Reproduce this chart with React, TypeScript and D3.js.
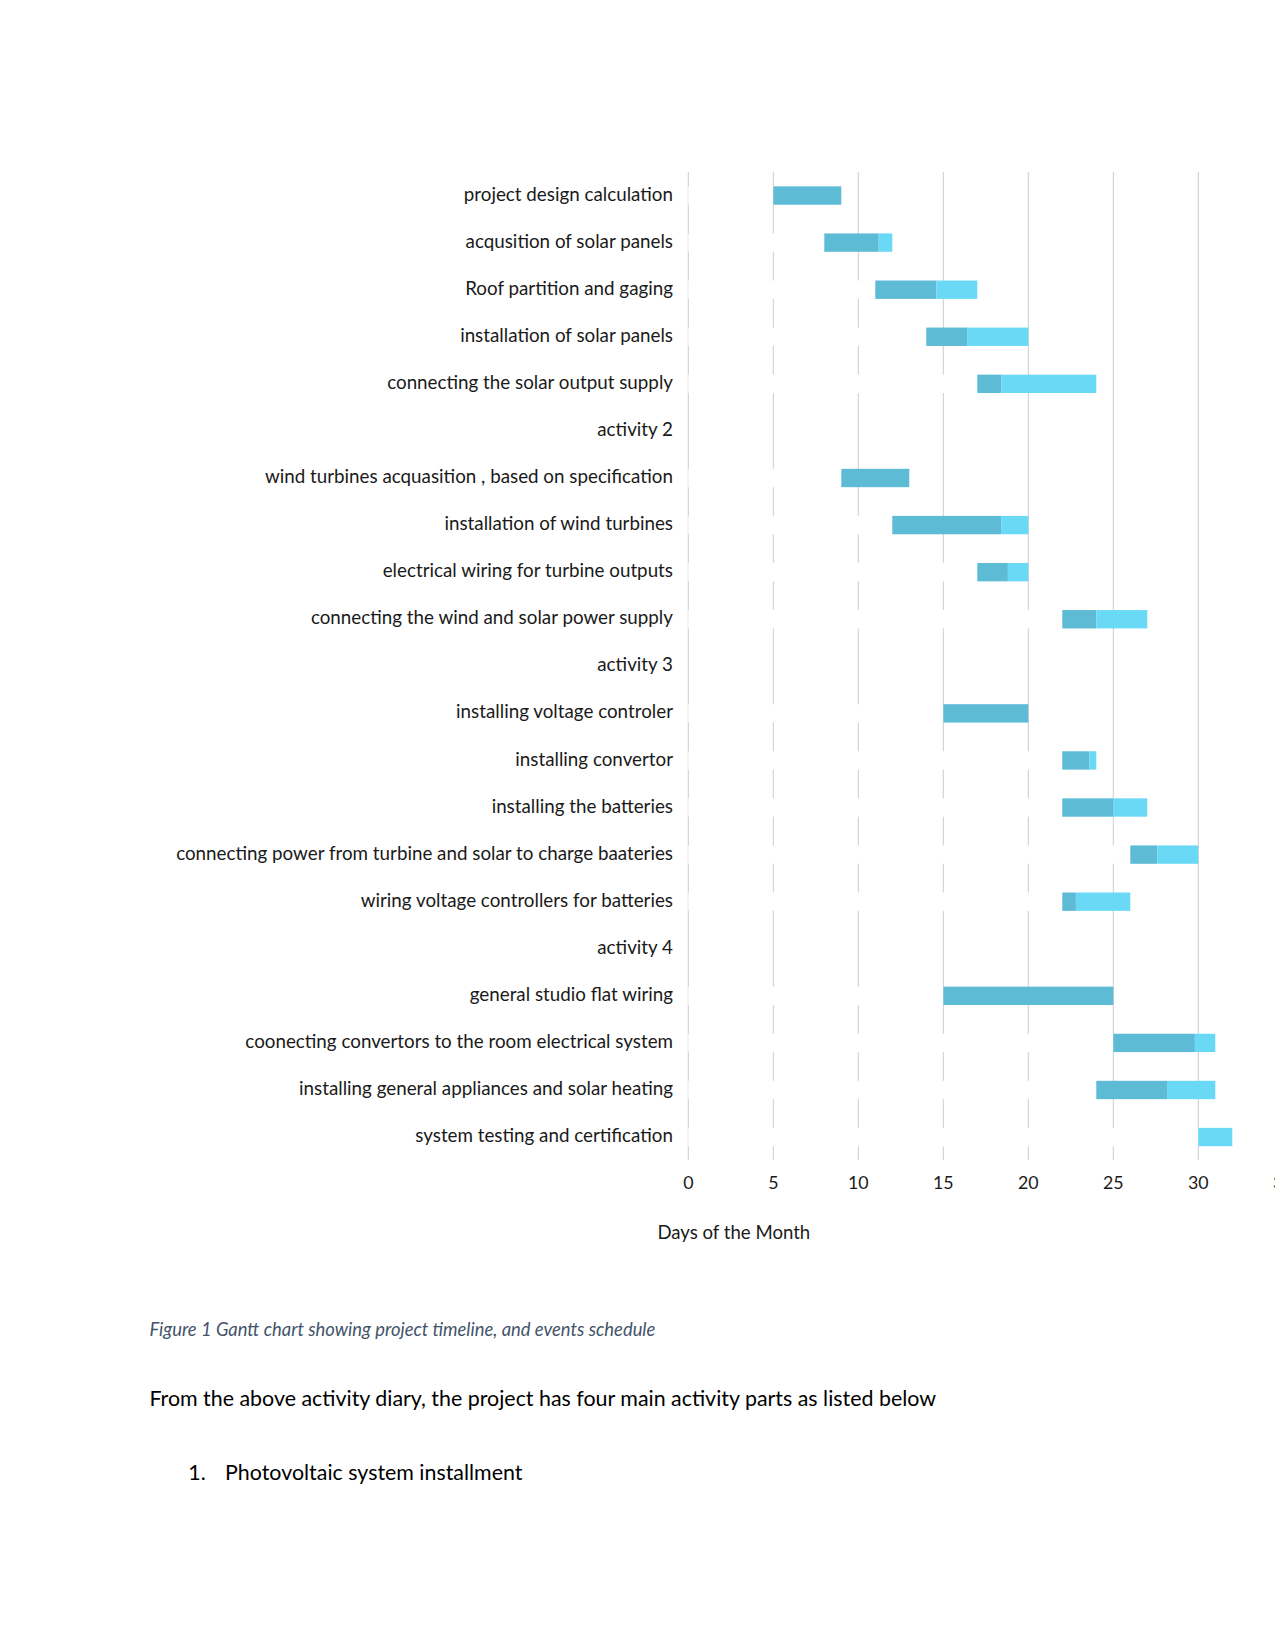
import React from 'react';
import * as d3 from 'd3';

// Gantt data (days of the month)
const tasks = [
  'project design calculation',
  'acqusition of solar panels',
  'Roof partition and gaging',
  'installation of solar panels',
  'connecting the solar output supply',
  'activity 2',
  'wind turbines acquasition , based on specification',
  'installation of wind turbines',
  'electrical wiring for turbine outputs',
  'connecting the wind and solar power supply',
  'activity 3',
  'installing voltage controler',
  'installing convertor',
  'installing the batteries',
  'connecting power from turbine and solar to charge baateries',
  'wiring voltage controllers for batteries',
  'activity 4',
  'general studio flat wiring',
  'coonecting convertors to the room electrical system',
  'installing general appliances and solar heating',
  'system testing and certification',
];
const startDay = [5, 8, 11, 14, 17, 0, 9, 12, 17, 22, 0, 15, 22, 22, 26, 22, 0, 15, 25, 24, 30];
const durationDays = [4, 4, 6, 6, 7, 0, 4, 8, 3, 5, 0, 5, 2, 5, 4, 4, 0, 10, 6, 7, 2];
const percentComplete = [100, 80, 60, 40, 20, 0, 100, 80, 60, 40, 0, 100, 80, 60, 40, 20, 0, 100, 80, 60, 0];
const dayTicks = [0, 5, 10, 15, 20, 25, 30, 35];

const W = 1275;
const H = 1650;
const FONT = 'Lato, "Open Sans", sans-serif';

const App: React.FC = () => {
  const x = d3.scaleLinear().domain([0, 35]).range([688.3, 1283.3]);
  const y = d3
    .scaleBand<string>()
    .domain(tasks)
    .range([172, 1160.6])
    .paddingInner(0.61)
    .paddingOuter(0.305);

  const rows = tasks.map((t, i) => {
    const s = startDay[i];
    const d = durationDays[i];
    const done = (d * percentComplete[i]) / 100;
    return { t, s, d, done };
  });

  return (
    <svg
      width={W}
      height={H}
      style={{ position: 'absolute', left: 0, top: 0, display: 'block', background: '#fff' }}
      fontFamily={FONT}
    >
      {/* vertical gridlines */}
      {dayTicks.map((v) => (
        <line
          key={'g' + v}
          x1={x(v)}
          x2={x(v)}
          y1={172}
          y2={1160}
          stroke="#cccccc"
          strokeWidth={1}
        />
      ))}

      {/* bars: invisible (white) start segment, completed part, remaining part */}
      {rows.map((r) => {
        const y0 = y(r.t) ?? 0;
        const bh = y.bandwidth();
        if (r.d === 0) return null;
        return (
          <g key={r.t}>
            <rect x={x(0)} y={y0} width={x(r.s) - x(0)} height={bh} fill="#ffffff" />
            {r.done > 0 && (
              <rect x={x(r.s)} y={y0} width={x(r.s + r.done) - x(r.s)} height={bh} fill="#5dbbd6" />
            )}
            {r.done < r.d && (
              <rect
                x={x(r.s + r.done)}
                y={y0}
                width={x(r.s + r.d) - x(r.s + r.done)}
                height={bh}
                fill="#6ad9f6"
              />
            )}
          </g>
        );
      })}

      {/* category labels */}
      {tasks.map((t) => (
        <text
          key={'l' + t}
          x={673}
          y={(y(t) ?? 0) + y.bandwidth() / 2 - 1.5}
          dy="0.35em"
          textAnchor="end"
          fontSize={18.8}
          fill="#1a1a1a"
        >
          {t}
        </text>
      ))}

      {/* x axis tick labels */}
      {dayTicks.map((v) => (
        <text
          key={'t' + v}
          x={x(v)}
          y={1183}
          dy="0.35em"
          textAnchor="middle"
          fontSize={17.8}
          fill="#1a1a1a"
        >
          {v}
        </text>
      ))}

      <text x={733.8} y={1232} dy="0.35em" textAnchor="middle" fontSize={18.6} fill="#1a1a1a">
        Days of the Month
      </text>

      {/* document text below the figure */}
      <text x={149.4} y={1330} dy="0.35em" fontSize={18.4} fontStyle="italic" fill="#44546a">
        Figure 1 Gantt chart showing project timeline, and events schedule
      </text>
      <text x={149.4} y={1399} dy="0.35em" fontSize={21.4} fill="#000">
        From the above activity diary, the project has four main activity parts as listed below
      </text>
      <text x={188.3} y={1473} dy="0.35em" fontSize={21.4} fill="#000">
        1.
      </text>
      <text x={225.1} y={1473} dy="0.35em" fontSize={21.4} fill="#000">
        Photovoltaic system installment
      </text>
    </svg>
  );
};

export default App;
